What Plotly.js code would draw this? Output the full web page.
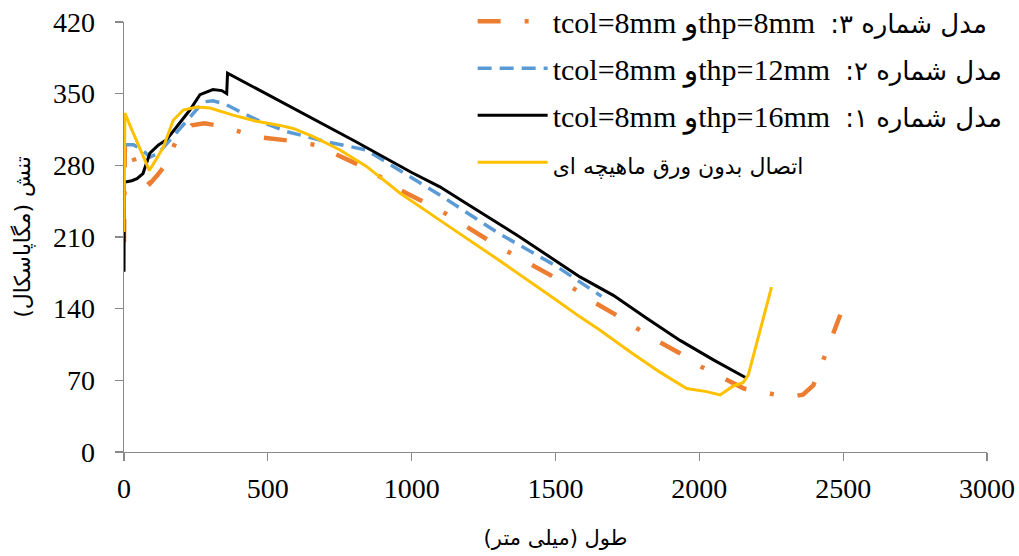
<!DOCTYPE html>
<html>
<head>
<meta charset="utf-8">
<script src="https://cdn.plot.ly/plotly-3.0.1.min.js"></script>
<style>body{margin:0;padding:0;background:#fff;} #chart{width:1019px;height:556px;}</style>
</head>
<body>
<div id="chart"></div>
<script>
// Model 3: thp=8mm (orange dash-dot)
const x8 = [0, 3, 9, 25, 44, 70, 90, 115, 143, 183, 235, 280, 322, 414, 484, 577, 664, 727, 820, 901, 959, 1100, 1200, 1300, 1500, 1585, 1630, 1707, 1782, 1851, 1929, 2008, 2077, 2155, 2200, 2239, 2280, 2315, 2360, 2396, 2431, 2455, 2478, 2490];
const y8 = [205, 300, 305, 292, 279, 268, 262, 270, 280, 305, 319, 321, 319, 312, 307, 304, 300, 292, 280, 267, 256, 236, 218, 201, 170, 156, 147, 134.5, 121, 109, 97, 83, 73, 62, 59, 57.6, 55, 53.7, 56, 65, 90, 109, 125, 134];
// Model 2: thp=12mm (blue dashed)
const x12 = [0, 33, 60, 90, 120, 148, 190, 229, 276, 309, 350, 392, 473, 565, 705, 843, 959, 1109, 1300, 1500, 1660];
const y12 = [300, 300, 296, 288, 292, 301, 315, 327, 342, 343, 340, 334, 323, 313, 303, 295, 275, 249, 214, 182, 152];
// Model 1: thp=16mm (black)
const x16 = [0, 1, 10, 27, 45, 66, 90, 120, 148, 190, 229, 264, 309, 340, 357, 360, 600, 800, 1000, 1098, 1200, 1376, 1585, 1701, 1817, 1933, 2049, 2165];
const y16 = [176, 264, 264, 265, 267, 272, 292, 300, 305, 320, 334, 349, 354, 353, 350, 370, 334, 304, 273, 259, 241, 210, 171, 153, 130.6, 109, 90, 72];
// Connection without stiffener plate (yellow)
const xNo = [0, 0.5, 3, 30, 60, 88, 110, 137, 171, 206, 253, 299, 379, 461, 542, 588, 658, 751, 843, 959, 1100, 1300, 1500, 1585, 1655, 1759, 1863, 1956, 2025, 2050, 2072, 2095, 2118, 2152, 2170, 2251];
const yNo = [215, 331, 331, 313, 294, 275, 285, 298, 324, 334, 337, 336, 329, 323, 319, 316, 308, 295, 279, 253, 226, 188, 149, 132, 119, 98, 78, 62, 59, 57, 55.7, 60, 64.5, 67.7, 75, 161];

const RLE = '\u202B', PDF = '\u202C';
const AR = '<span style="font-size:26px;font-family:DejaVu Sans">';
const AR2 = '<span style="font-size:22px;font-family:DejaVu Sans">';
const names = [
  RLE + AR + 'مدل شماره ۳:</span>  thp=8mmو tcol=8mm' + PDF,
  RLE + AR + 'مدل شماره ۲:</span>  thp=12mmو tcol=8mm' + PDF,
  RLE + AR + 'مدل شماره ۱:</span>  thp=16mmو tcol=8mm' + PDF,
  RLE + AR2 + 'اتصال بدون ورق ماهیچه ای</span>' + PDF
];
const xTitle = RLE + 'طول (میلی متر)' + PDF;
const yTitle = RLE + 'تنش (مگاپاسکال)' + PDF;

const traces = [
  {x: x8, y: y8, name: names[0], legendgroup: 'a', mode: 'lines',
   line: {color: '#ED7D31', width: 4.5, dash: '23px,24px,4px,24px'}},
  {x: x12, y: y12, name: names[1], legendgroup: 'b', mode: 'lines',
   line: {color: '#5B9BD5', width: 3.5, dash: '14px,8px'}},
  {x: x16, y: y16, name: names[2], legendgroup: 'c', mode: 'lines',
   line: {color: '#000000', width: 3}},
  {x: xNo, y: yNo, name: names[3], legendgroup: 'd', mode: 'lines',
   line: {color: '#FFC000', width: 3}}
];

const axisCommon = {
  showgrid: false, zeroline: false, showline: true,
  linecolor: '#898989', linewidth: 1.3,
  ticks: 'outside', ticklen: 8, tickwidth: 1.3, tickcolor: '#898989',
  tickfont: {family: 'Liberation Serif, Times New Roman, serif', size: 28, color: '#000'}
};

const layout = {
  width: 1019, height: 556,
  margin: {l: 124, r: 32, t: 22, b: 104, autoexpand: false},
  paper_bgcolor: '#fff', plot_bgcolor: '#fff',
  showlegend: true,
  hovermode: false,
  xaxis: Object.assign({}, axisCommon, {
    range: [0, 3000], dtick: 500, tick0: 0, ticklabelstandoff: 3,
    title: {text: xTitle, font: {family: 'DejaVu Sans, sans-serif', size: 21, color: '#000'}, standoff: 27}
  }),
  yaxis: Object.assign({}, axisCommon, {
    range: [0, 420], dtick: 70, tick0: 0, ticklabelstandoff: 14,
    title: {text: yTitle, font: {family: 'DejaVu Sans, sans-serif', size: 22, color: '#000'}, standoff: 16}
  }),
  legend: {
    x: 0.404, y: 1.062, xanchor: 'left', yanchor: 'top',
    bgcolor: 'rgba(0,0,0,0)', borderwidth: 0,
    font: {family: 'Liberation Serif, DejaVu Sans, serif', size: 30, color: '#000'},
    traceorder: 'grouped', tracegroupgap: 5, itemwidth: 70
  }
};

Plotly.newPlot('chart', traces, layout, {staticPlot: true, displayModeBar: false});
</script>
</body>
</html>
